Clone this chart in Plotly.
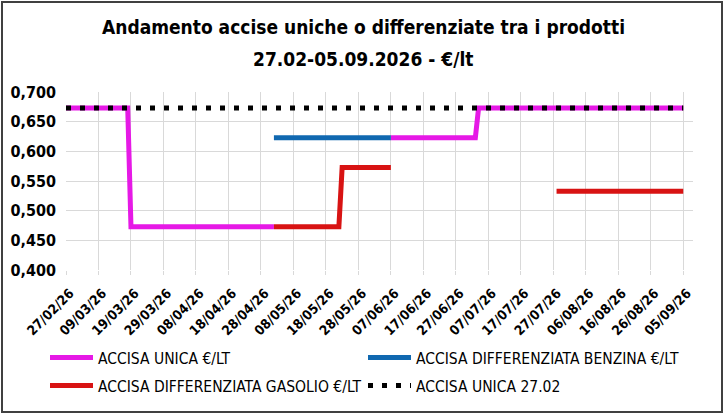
import plotly.graph_objects as go

# ---- data ----
unica_dates = ["2026-02-27", "2026-03-18", "2026-03-19", "2026-05-02", None,
               "2026-06-07", "2026-07-03", "2026-07-04", "2026-09-05"]
unica_vals = [0.6729, 0.6729, 0.4729, 0.4729, None,
              0.6229, 0.6229, 0.6729, 0.6729]

benzina_dates = ["2026-05-02", "2026-06-07"]
benzina_vals = [0.6229, 0.6229]

gasolio_dates = ["2026-05-02", "2026-05-22", "2026-05-23", "2026-06-07", None,
                 "2026-07-28", "2026-09-05"]
gasolio_vals = [0.4729, 0.4729, 0.5729, 0.5729, None, 0.5329, 0.5329]

rif_dates = ["2026-02-27", "2026-09-05"]
rif_vals = [0.6729, 0.6729]

tick_dates = ["2026-02-27", "2026-03-09", "2026-03-19", "2026-03-29", "2026-04-08",
              "2026-04-18", "2026-04-28", "2026-05-08", "2026-05-18", "2026-05-28",
              "2026-06-07", "2026-06-17", "2026-06-27", "2026-07-07", "2026-07-17",
              "2026-07-27", "2026-08-06", "2026-08-16", "2026-08-26", "2026-09-05"]
tick_labels = ["27/02/26", "09/03/26", "19/03/26", "29/03/26", "08/04/26",
               "18/04/26", "28/04/26", "08/05/26", "18/05/26", "28/05/26",
               "07/06/26", "17/06/26", "27/06/26", "07/07/26", "17/07/26",
               "27/07/26", "06/08/26", "16/08/26", "26/08/26", "05/09/26"]
y_ticks = [0.40, 0.45, 0.50, 0.55, 0.60, 0.65, 0.70]
y_labels = ["0,400", "0,450", "0,500", "0,550", "0,600", "0,650", "0,700"]

title_line1 = "Andamento accise uniche o differenziate tra i prodotti"
title_line2 = "27.02-05.09.2026 - €/lt"

FONT = "DejaVu Sans Condensed, Liberation Sans Narrow, sans-serif"

fig = go.Figure()
fig.add_trace(go.Scatter(x=unica_dates, y=unica_vals, mode="lines",
                         name="ACCISA UNICA €/LT", connectgaps=False, legend="legend",
                         line=dict(color="#E619E6", width=5)))
fig.add_trace(go.Scatter(x=benzina_dates, y=benzina_vals, mode="lines",
                         name="ACCISA DIFFERENZIATA BENZINA €/LT", legend="legend",
                         legendwidth=300,
                         line=dict(color="#1068B0", width=5)))
fig.add_trace(go.Scatter(x=gasolio_dates, y=gasolio_vals, mode="lines",
                         name="ACCISA DIFFERENZIATA GASOLIO €/LT", connectgaps=False,
                         legend="legend2",
                         line=dict(color="#D81313", width=5)))
fig.add_trace(go.Scatter(x=rif_dates, y=rif_vals, mode="lines",
                         name="ACCISA UNICA 27.02", legend="legend2", legendwidth=300,
                         line=dict(color="#000000", width=5, dash="5px,9px")))

L, R, T, B = 66, 32, 92, 145
W, H = 725, 415
pw, ph = W - L - R, H - T - B

def py(pix):
    """pixel row -> paper y"""
    return 1 + (T - pix) / ph

def px(pix):
    return (pix - L) / pw

legend_common = dict(orientation="h", xref="paper", yref="paper",
                     xanchor="left", yanchor="top", entrywidth=260,
                     entrywidthmode="pixels",
                     font=dict(family=FONT, size=15.5, color="black"),
                     itemwidth=43, bgcolor="rgba(0,0,0,0)")

fig.update_layout(
    width=W, height=H,
    margin=dict(l=L, r=R, t=T, b=B, pad=0),
    paper_bgcolor="white", plot_bgcolor="white",
    font=dict(family=FONT, color="black"),
    showlegend=True,
    legend=dict(x=px(45), y=py(341), **legend_common),
    legend2=dict(x=px(45), y=py(369), **legend_common),
    annotations=[
        dict(text="<b>%s</b>" % title_line1, xref="paper", yref="paper",
             x=px(363), y=py(27), xanchor="center", yanchor="middle", showarrow=False,
             font=dict(family=FONT, size=19, color="black")),
        dict(text="<b>%s</b>" % title_line2, xref="paper", yref="paper",
             x=px(363), y=py(59), xanchor="center", yanchor="middle", showarrow=False,
             font=dict(family=FONT, size=19, color="black")),
    ],
    xaxis=dict(type="date", range=["2026-02-27", "2026-09-08"], tickmode="array",
               tickvals=tick_dates, ticktext=["<b>%s</b>" % t for t in tick_labels],
               tickangle=-45, showgrid=True, gridcolor="#D9D9D9", gridwidth=1,
               ticks="outside", ticklen=4, tickcolor="#D9D9D9", automargin=False,
               ticklabelstandoff=5, ticklabelshift=4,
               showline=False, zeroline=False,
               tickfont=dict(family=FONT, size=13.5, color="black")),
    yaxis=dict(range=[0.40, 0.70], tickmode="array", tickvals=y_ticks,
               ticktext=["<b>%s</b>" % t for t in y_labels], automargin=False,
               showgrid=True, gridcolor="#D9D9D9", gridwidth=1, zeroline=False,
               showline=False, ticks="", ticklabelstandoff=9,
               tickfont=dict(family=FONT, size=16, color="black")),
    shapes=[dict(type="rect", xref="paper", yref="paper",
                 x0=px(2), x1=px(722), y0=py(412), y1=py(2),
                 line=dict(color="#404040", width=2), fillcolor="rgba(0,0,0,0)",
                 layer="below")],
)

fig.write_html("out.html", config={"displayModeBar": False},
               post_script="document.body.style.margin='0px';document.body.style.padding='0px';")
